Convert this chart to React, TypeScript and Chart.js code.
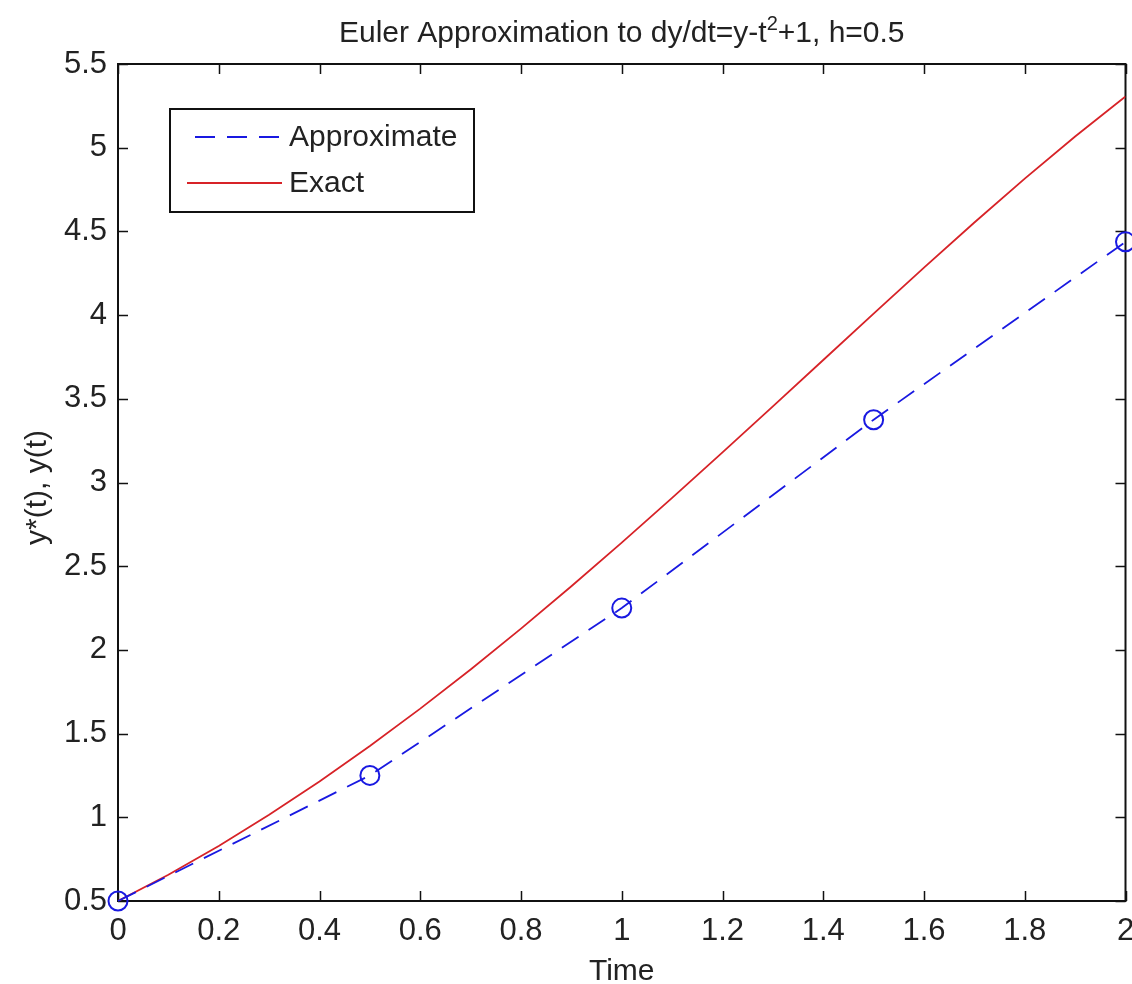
import React, { useEffect, useRef } from "react";
import { Chart, registerables } from "chart.js";

Chart.register(...registerables);

// Euler approximation points (h = 0.5)
const approxT = [0, 0.5, 1, 1.5, 2];
const approxY = [0.5, 1.25, 2.25, 3.375, 4.4375];

// Exact solution samples
const exactT = [0, 0.1, 0.2, 0.3, 0.4, 0.5, 0.6, 0.7, 0.8, 0.9, 1.0, 1.1, 1.2, 1.3, 1.4, 1.5, 1.6, 1.7, 1.8, 1.9, 2.0];
const exactY = [0.5, 0.657, 0.829, 1.015, 1.214, 1.426, 1.649, 1.883, 2.127, 2.380, 2.641, 2.908, 3.180, 3.455, 3.732, 4.009, 4.284, 4.553, 4.815, 5.067, 5.306];

const xTicks = [0, 0.2, 0.4, 0.6, 0.8, 1, 1.2, 1.4, 1.6, 1.8, 2];
const xTickLabels = ["0", "0.2", "0.4", "0.6", "0.8", "1", "1.2", "1.4", "1.6", "1.8", "2"];
const yTicks = [0.5, 1, 1.5, 2, 2.5, 3, 3.5, 4, 4.5, 5, 5.5];
const yTickLabels = ["0.5", "1", "1.5", "2", "2.5", "3", "3.5", "4", "4.5", "5", "5.5"];

const seriesNames = ["Approximate", "Exact"];
const titleMain = "Euler Approximation to dy/dt=y-t";
const titleSup = "2";
const titleRest = "+1, h=0.5";
const xTitle = "Time";
const yTitle = "y*(t), y(t)";

const FONT = '"Liberation Sans", Arial, sans-serif';
const BLUE = "rgb(25,25,225)";
const RED = "rgb(215,35,40)";
const TEXT = "#222";

const CANVAS_W = 1137;

const framePlugin = {
  id: "matlabFrame",
  beforeDatasetsDraw(chart: any) {
    const { ctx, chartArea: a } = chart;
    const xs = chart.scales.x;
    const ys = chart.scales.y;
    ctx.save();
    ctx.strokeStyle = "#111";
    ctx.lineWidth = 1.5;
    const tl = 10;
    ctx.beginPath();
    for (const v of xTicks) {
      const px = Math.round(xs.getPixelForValue(v)) + 0.5;
      ctx.moveTo(px, a.bottom);
      ctx.lineTo(px, a.bottom - tl);
      ctx.moveTo(px, a.top);
      ctx.lineTo(px, a.top + tl);
    }
    for (const v of yTicks) {
      const py = Math.round(ys.getPixelForValue(v)) + 0.5;
      ctx.moveTo(a.left, py);
      ctx.lineTo(a.left + tl, py);
      ctx.moveTo(a.right, py);
      ctx.lineTo(a.right - tl, py);
    }
    ctx.stroke();
    ctx.lineWidth = 2;
    ctx.strokeRect(a.left, a.top, a.right - a.left, a.bottom - a.top);
    ctx.restore();
  },
  afterDraw(chart: any) {
    const { ctx, chartArea: a } = chart;
    ctx.save();
    ctx.fillStyle = TEXT;
    // Title with superscript
    const big = `30px ${FONT}`;
    const small = `20px ${FONT}`;
    ctx.font = big;
    const w1 = ctx.measureText(titleMain).width;
    const w3 = ctx.measureText(titleRest).width;
    ctx.font = small;
    const w2 = ctx.measureText(titleSup).width;
    const total = w1 + w2 + w3;
    const cx = (a.left + a.right) / 2;
    let x0 = cx - total / 2;
    ctx.textBaseline = "alphabetic";
    ctx.textAlign = "left";
    ctx.font = big;
    ctx.fillText(titleMain, x0, 42);
    ctx.font = small;
    ctx.fillText(titleSup, x0 + w1, 30);
    ctx.font = big;
    ctx.fillText(titleRest, x0 + w1 + w2, 42);

    // X title
    ctx.textAlign = "center";
    ctx.fillText(xTitle, cx, 980);

    // Y title
    ctx.save();
    ctx.translate(46, (a.top + a.bottom) / 2 + 5);
    ctx.rotate(-Math.PI / 2);
    ctx.textAlign = "center";
    ctx.textBaseline = "alphabetic";
    ctx.fillText(yTitle, 0, 0);
    ctx.restore();

    // Legend box
    const lx = 170, ly = 109, lw = 304, lh = 103;
    ctx.fillStyle = "#fff";
    ctx.fillRect(lx, ly, lw, lh);
    ctx.strokeStyle = "#111";
    ctx.lineWidth = 2;
    ctx.strokeRect(lx, ly, lw, lh);
    const ds = chart.data.datasets;
    const rows = [137, 183];
    ds.forEach((d: any, i: number) => {
      ctx.strokeStyle = d.borderColor;
      ctx.lineWidth = d.borderWidth;
      ctx.setLineDash(d.borderDash || []);
      ctx.beginPath();
      ctx.moveTo(i === 0 ? 195 : 187, rows[i]);
      ctx.lineTo(282, rows[i]);
      ctx.stroke();
      ctx.setLineDash([]);
      ctx.fillStyle = TEXT;
      ctx.font = big;
      ctx.textAlign = "left";
      ctx.textBaseline = "middle";
      ctx.fillText(d.label, 289, rows[i] + 1);
    });
    ctx.restore();
  },
};

export default function App() {
  const ref = useRef<HTMLCanvasElement | null>(null);
  useEffect(() => {
    document.body.style.margin = "0";
    const canvas = ref.current;
    if (!canvas) return;
    const chart = new Chart(canvas, {
      type: "line",
      data: {
        datasets: [
          {
            label: seriesNames[0],
            data: approxT.map((t, i) => ({ x: t, y: approxY[i] })),
            borderColor: BLUE,
            borderWidth: 1.8,
            borderDash: [20, 12],
            pointRadius: 9.5,
            pointBorderWidth: 2,
            pointBorderColor: BLUE,
            pointBackgroundColor: "rgba(0,0,0,0)",
            pointStyle: "circle",
            tension: 0,
            clip: false as any,
          },
          {
            label: seriesNames[1],
            data: exactT.map((t, i) => ({ x: t, y: exactY[i] })),
            borderColor: RED,
            borderWidth: 1.8,
            pointRadius: 0,
            tension: 0,
          },
        ],
      },
      options: {
        animation: false,
        responsive: false,
        maintainAspectRatio: false,
        events: [],
        layout: { padding: { top: 64, right: 2, left: 0, bottom: 0 } },
        plugins: {
          legend: { display: false },
          title: { display: false },
          tooltip: { enabled: false },
        },
        scales: {
          x: {
            type: "linear",
            min: 0,
            max: 2,
            grid: { display: false, drawTicks: false },
            border: { display: false },
            afterBuildTicks: (s: any) => {
              s.ticks = xTicks.map((v) => ({ value: v }));
            },
            afterFit: (s: any) => {
              s.height = 83;
              s.paddingLeft = 0;
              s.paddingRight = 0;
            },
            ticks: {
              autoSkip: false,
              maxRotation: 0,
              padding: 12,
              color: TEXT,
              font: { family: FONT, size: 31 },
              callback: (v: any) => {
                const i = xTicks.findIndex((t) => Math.abs(t - Number(v)) < 1e-9);
                return i >= 0 ? xTickLabels[i] : "";
              },
            },
          },
          y: {
            type: "linear",
            min: 0.5,
            max: 5.5,
            grid: { display: false, drawTicks: false },
            border: { display: false },
            afterBuildTicks: (s: any) => {
              s.ticks = yTicks.map((v) => ({ value: v }));
            },
            afterFit: (s: any) => {
              s.width = 118;
              s.paddingTop = 0;
              s.paddingBottom = 0;
            },
            ticks: {
              autoSkip: false,
              padding: 11,
              color: TEXT,
              font: { family: FONT, size: 31 },
              callback: (v: any) => {
                const i = yTicks.findIndex((t) => Math.abs(t - Number(v)) < 1e-9);
                return i >= 0 ? yTickLabels[i] : "";
              },
            },
          },
        },
      },
      plugins: [framePlugin],
    });
    return () => chart.destroy();
  }, []);
  return (
    <div style={{ position: "absolute", left: 0, top: 0, width: 1132, height: 984, background: "#fff", overflow: "hidden" }}>
      <canvas ref={ref} width={CANVAS_W} height={984} style={{ width: CANVAS_W, height: 984, display: "block" }} />
    </div>
  );
}
